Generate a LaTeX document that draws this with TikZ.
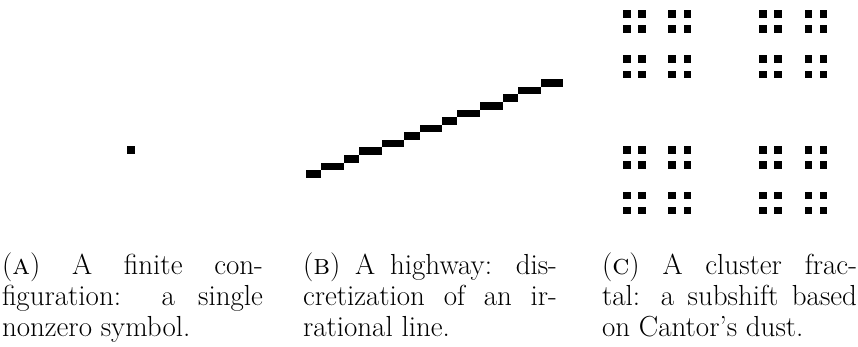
\documentclass[tikz,border=0pt]{standalone}
\begin{document}
\begin{tikzpicture}[x=1pt,y=-1pt,
  captext/.style={anchor=base west,inner sep=0pt,outer sep=0pt,font=\fontsize{29}{31}\selectfont},
  cellfill/.style={fill=black}]
\useasboundingbox (0,0) rectangle (858,347);
\def\c{7.57}
% (a) single symbol
\fill[cellfill] (127.3,146) rectangle ++(\c,\c);
% (b) highway
\foreach \s/\l [count=\j from 0] in {0/2,2/3,5/2,7/3,10/3,13/2,15/3,18/2,20/3,23/3,26/2,28/3,31/3}
  \fill[cellfill] ({306+\s*\c},{177.7-\j*\c}) rectangle ++({\l*\c},{-\c});
% (c) Cantor dust
\foreach \a in {0,2,6,8,18,20,24,26}
  \foreach \b in {0,2,6,8,18,20,24,26}
    \fill[cellfill] ({623+\a*\c},{10+\b*\c}) rectangle ++(\c,\c);
% captions
\node[captext] (a1) at (2,274) {\makebox[261pt][s]{(\textsc{a}) A finite con-}};
\node[captext] (a2) at (2,305) {\makebox[261pt][s]{figuration: a single}};
\node[captext] (a3) at (2,336) {nonzero symbol.};
\node[captext] (b1) at (303,274) {\makebox[254pt][s]{(\textsc{b}) A highway: dis-}};
\node[captext] (b2) at (303,305) {\makebox[254pt][s]{cretization of an ir-}};
\node[captext] (b3) at (303,336) {rational line.};
\node[captext] (c1) at (602,274) {\makebox[255pt][s]{(\textsc{c}) A cluster frac-}};
\node[captext] (c2) at (602,305) {\makebox[255pt][s]{tal: a subshift based}};
\node[captext] (c3) at (602,336) {on Cantor’s dust.};
\end{tikzpicture}
\end{document}
